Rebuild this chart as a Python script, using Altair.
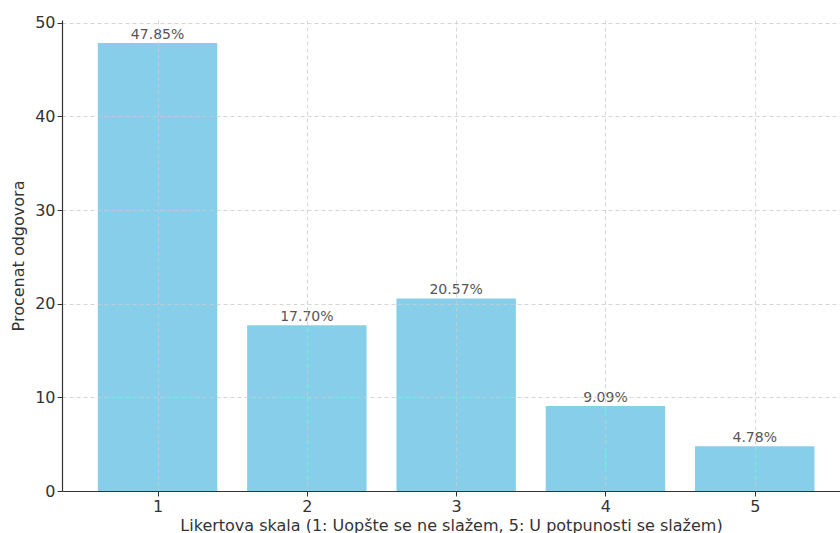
import altair as alt
import pandas as pd

categories = [1, 2, 3, 4, 5]
values = [47.85, 17.70, 20.57, 9.09, 4.78]
labels = ["47.85%", "17.70%", "20.57%", "9.09%", "4.78%"]

df = pd.DataFrame({"cat": categories, "val": values, "lab": labels})

xscale = alt.Scale(domain=[0.36, 5.571], nice=False, zero=False)
yscale = alt.Scale(domain=[0, 50.3], nice=False)

font = "DejaVu Sans"

bars = alt.Chart(df).transform_calculate(
    x0="datum.cat - 0.4", x1="datum.cat + 0.4"
).mark_bar(color="#87CEEB").encode(
    x=alt.X("x0:Q", scale=xscale,
            axis=alt.Axis(values=categories, format="d", title="Likertova skala (1: Uopšte se ne slažem, 5: U potpunosti se slažem)",
                          grid=True, gridDash=[4, 3], gridColor="#cccccc", gridWidth=0.8,
                          domainColor="#333333", tickColor="#333333", tickSize=5,
                          labelFont=font, labelFontSize=16, labelColor="#333333", labelPadding=2,
                          titleFont=font, titleFontSize=16, titleFontWeight="normal", titleColor="#333333",
                          titlePadding=3, zindex=1)),
    x2="x1:Q",
    y=alt.Y("val:Q", scale=yscale,
            axis=alt.Axis(values=[0, 10, 20, 30, 40, 50], title="Procenat odgovora",
                          grid=True, gridDash=[4, 3], gridColor="#cccccc", gridWidth=0.8,
                          domainColor="#333333", tickColor="#333333", tickSize=5,
                          labelFont=font, labelFontSize=16, labelColor="#333333", labelPadding=2,
                          titleFont=font, titleFontSize=16, titleFontWeight="normal", titleColor="#333333",
                          titlePadding=8, zindex=1)),
    y2=alt.datum(0),
)

text = alt.Chart(df).mark_text(baseline="bottom", dy=-1, font=font, fontSize=14, color="#555555").encode(
    x=alt.X("cat:Q", scale=xscale),
    y=alt.Y("val:Q", scale=yscale),
    text="lab:N",
)

chart = (bars + text).properties(
    width=778, height=471,
    autosize=alt.AutoSizeParams(type="none"),
    padding={"left": 62, "top": 20, "right": 0, "bottom": 42},
).configure_view(stroke=None).configure_axis(domainWidth=1.2)

chart.save("out.html", embed_options={"renderer": "svg", "actions": False})
